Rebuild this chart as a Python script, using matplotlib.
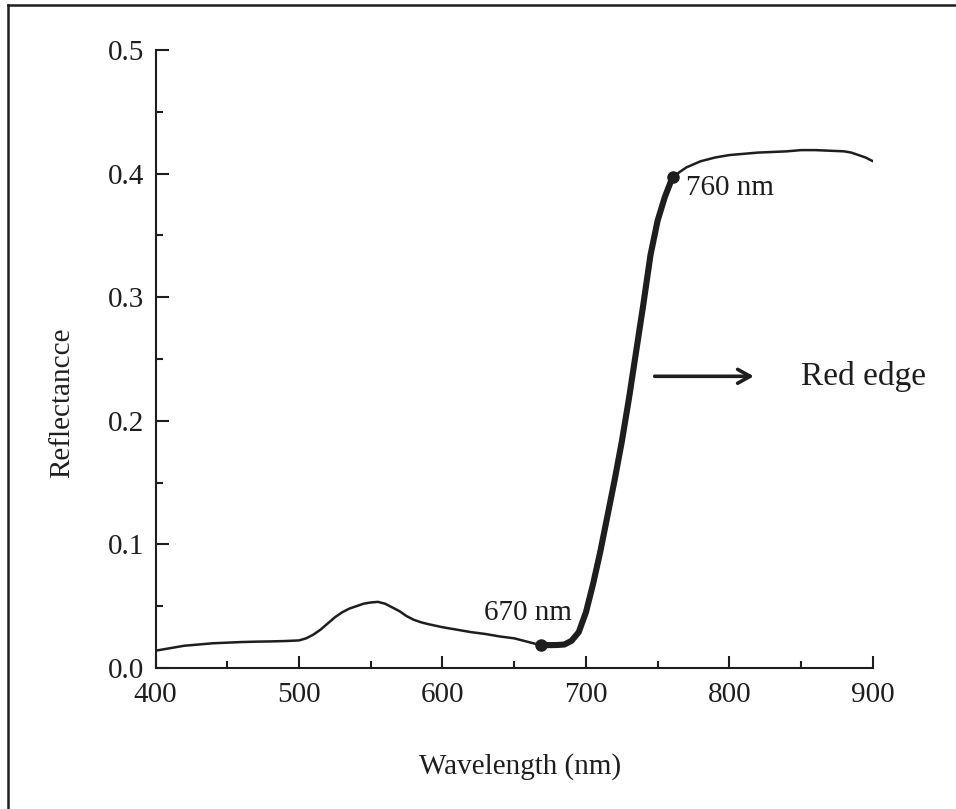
import matplotlib.pyplot as plt
import numpy as np
from matplotlib.lines import Line2D

# reflectance spectrum
wavelength = [400, 410, 420, 430, 440, 450, 460, 470, 480, 490, 500, 505, 510, 515, 520,
              525, 530, 535, 540, 545, 550, 555, 560, 565, 570, 575, 580, 585, 590, 600,
              610, 620, 630, 640, 650, 660, 665, 670, 675, 680, 685, 690, 695, 700, 705,
              710, 715, 720, 725, 730, 735, 740, 745, 750, 755, 760, 765, 770, 780, 790,
              800, 810, 820, 830, 840, 850, 860, 870, 880, 885, 890, 895, 900]
reflectance = [0.014, 0.016, 0.018, 0.019, 0.020, 0.0205, 0.021, 0.0213, 0.0215, 0.0218, 0.0223, 0.024, 0.027, 0.031, 0.036,
               0.041, 0.045, 0.048, 0.050, 0.052, 0.053, 0.0535, 0.052, 0.049, 0.046, 0.042, 0.039, 0.037, 0.0355, 0.033,
               0.031, 0.029, 0.0275, 0.0255, 0.024, 0.021, 0.0195, 0.0186, 0.0185, 0.0186, 0.019, 0.022, 0.029, 0.045, 0.068,
               0.094, 0.123, 0.152, 0.183, 0.218, 0.256, 0.294, 0.334, 0.362, 0.381, 0.396, 0.401, 0.405, 0.410, 0.413,
               0.415, 0.416, 0.417, 0.4175, 0.418, 0.419, 0.419, 0.4185, 0.418, 0.417, 0.415, 0.413, 0.410]

edge_points = [669, 761]
edge_values = [0.0186, 0.397]
edge_labels = ["670 nm", "760 nm"]

plt.rcParams['font.family'] = ['Liberation Serif', 'DejaVu Serif']
ink = '#1e1e1e'

fig = plt.figure(figsize=(9.56, 8.09), dpi=100)
ax = fig.add_axes([0.1627, 0.1743, 0.7503, 0.7639])

wl = np.array(wavelength)
rf = np.array(reflectance)
ax.plot(wl, rf, color=ink, lw=1.8, solid_capstyle='round')
mask = (wl >= 670) & (wl <= 760)
ax.plot(wl[mask], rf[mask], color=ink, lw=4.4, solid_capstyle='round', solid_joinstyle='round')
ax.plot(edge_points, edge_values, 'o', color=ink, ms=8)

ax.text(629, 0.039, edge_labels[0], fontsize=21, color=ink, ha='left', va='baseline')
ax.text(770, 0.388, edge_labels[1], fontsize=21, color=ink, ha='left', va='center')
ax.annotate('', xy=(819, 0.236), xytext=(746, 0.236),
            arrowprops=dict(arrowstyle='->,head_length=0.9,head_width=0.5', lw=2.6, color=ink))
ax.text(850, 0.236, 'Red edge', fontsize=24, color=ink, ha='left', va='center')

ax.set_xlim(400, 900)
ax.set_ylim(0, 0.5)
ax.set_xticks([400, 500, 600, 700, 800, 900])
ax.set_yticks([0.0, 0.1, 0.2, 0.3, 0.4, 0.5])
ax.set_xticks(np.arange(450, 900, 100), minor=True)
ax.set_yticks(np.arange(0.05, 0.5, 0.1), minor=True)
ax.yaxis.set_major_formatter(plt.FormatStrFormatter('%.1f'))
ax.tick_params(which='both', direction='in', width=1.5, color=ink, labelcolor=ink, labelsize=21)
ax.tick_params(which='major', length=9, pad=8)
ax.tick_params(which='minor', length=5)
ax.tick_params(axis='x', pad=10)
for s in ['top', 'right']:
    ax.spines[s].set_visible(False)
for s in ['left', 'bottom']:
    ax.spines[s].set_linewidth(1.5)
    ax.spines[s].set_color(ink)

ax.set_xlabel('Wavelength (nm)', fontsize=21, color=ink)
ax.set_ylabel('Reflectancce', fontsize=21, color=ink)
ax.xaxis.set_label_coords(0.508, -0.138)
ax.yaxis.set_label_coords(-0.112, 0.429)

# partial frame around the figure (top and left edges)
fig.add_artist(Line2D([8 / 956, 8 / 956], [0, 1 - 5 / 809], transform=fig.transFigure, color=ink, lw=1.8))
fig.add_artist(Line2D([8 / 956, 1], [1 - 5 / 809, 1 - 5 / 809], transform=fig.transFigure, color=ink, lw=1.8))

fig.savefig('out.png', dpi=100)
